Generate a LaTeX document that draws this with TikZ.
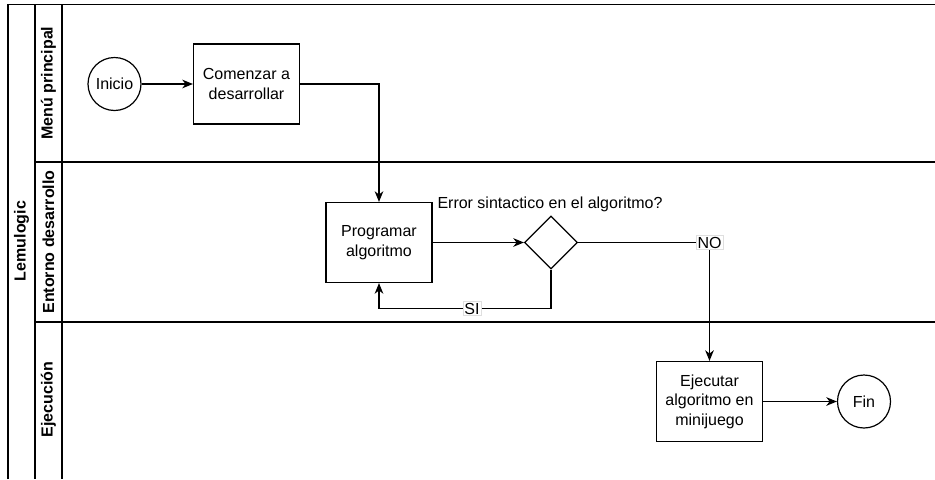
\documentclass[tikz,border=0pt]{standalone}
\usepackage{fontspec}
\setmainfont{Liberation Sans}
\usetikzlibrary{arrows.meta,shapes.geometric}
\begin{document}
\begin{tikzpicture}[x=0.75pt,y=-0.75pt,
  every node/.style={font=\fontsize{12}{14.6}\selectfont, text=black},
  pline/.style={draw=black, line width=1pt},
  box/.style={draw=black, line width=0.9pt, fill=white, minimum width=106*0.75pt,
    minimum height=80*0.75pt, align=center, inner sep=1pt},
  circ/.style={draw=black, line width=0.9pt, fill=white, circle, minimum size=53*0.75pt, inner sep=0pt},
  gate/.style={draw=black, line width=0.9pt, fill=white, diamond, aspect=1, minimum size=53*0.75pt, inner sep=0pt},
  arr/.style={draw=black, line width=0.9pt, -{Stealth[length=8pt,width=6.5pt,inset=2.5pt]}},
  lbl/.style={fill=white, draw=gray!25, line width=0.3pt, inner sep=1pt},
  lanetitle/.style={font=\bfseries\fontsize{12}{14}\selectfont, rotate=90, inner sep=0pt}
]
\useasboundingbox (0,0) rectangle (935,479);

% pool and lanes
\draw[pline] (8,479) -- (8,4.5) -- (935,4.5);
\draw[pline] (35,4.5) -- (35,479);
\draw[pline] (62,4.5) -- (62,479);
\draw[pline] (35,162) -- (935,162);
\draw[pline] (35,322) -- (935,322);

\node[lanetitle] (pool) at (21.5,241) {Lemulogic};
\node[lanetitle] (laneA) at (48.5,83) {Menú principal};
\node[lanetitle] (laneB) at (48.5,242) {Entorno desarrollo};
\node[lanetitle] (laneC) at (48.5,399.5) {Ejecución};

% activities
\node[circ] (inicio) at (114.5,84) {Inicio};
\node[box] (comenzar) at (246.5,84) {Comenzar a\\desarrollar};
\node[box] (prog) at (379,242.5) {Programar\\algoritmo};
\node[gate] (dec) at (551,242.5) {};
\node (pregunta) at (550,204) {Error sintactico en el algoritmo?};
\node[box] (ejec) at (709.5,401.5) {Ejecutar\\algoritmo en\\minijuego};
\node[circ] (fin) at (864,401.5) {Fin};

% flow
\draw[arr] (inicio) -- (comenzar);
\draw[arr] (comenzar.east) -| (prog.north);
\draw[arr] (prog) -- (dec);
\draw[arr] (dec.east) -| node[lbl, pos=0.5] {NO} (ejec.north);
\draw[arr] (dec.south) -- ++(0,39) coordinate (siturn) -| node[lbl, pos=0.23] {SI} (prog.south);
\draw[arr] (ejec) -- (fin);
\end{tikzpicture}
\end{document}
